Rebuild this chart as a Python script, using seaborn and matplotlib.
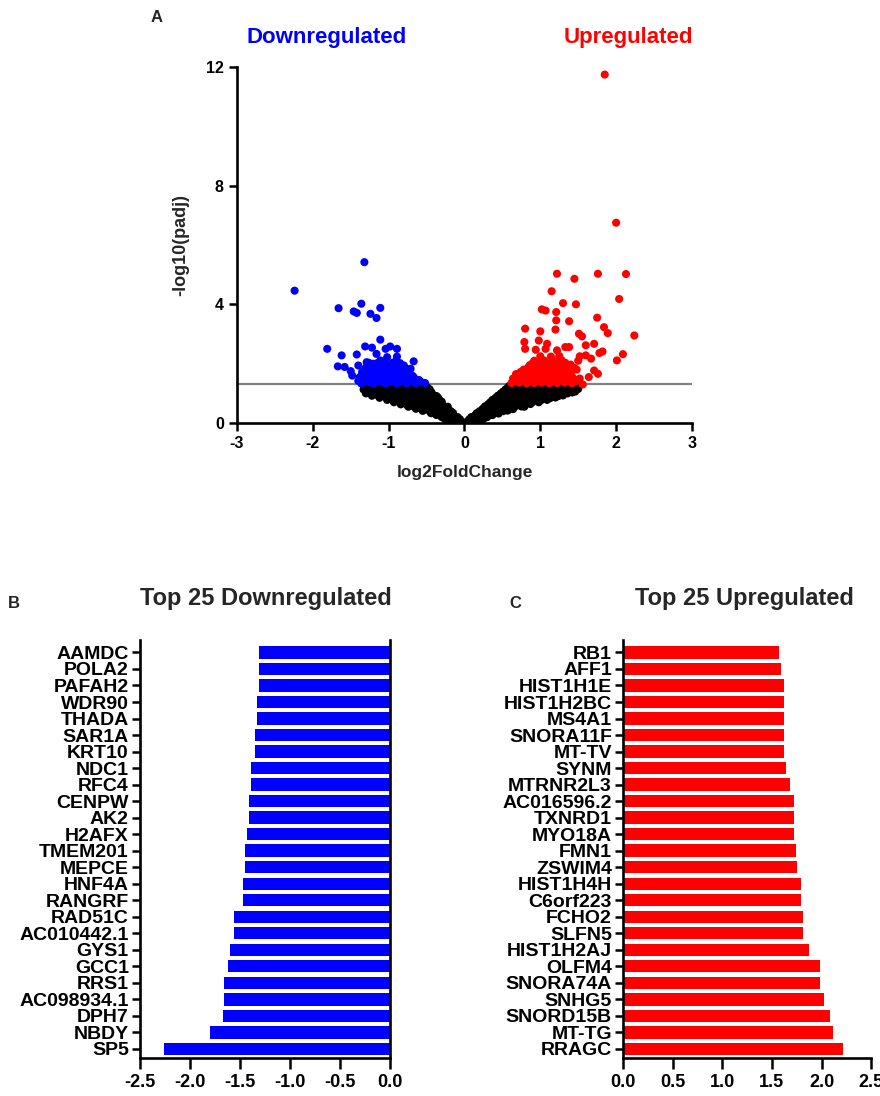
"""
Volcano plot plus top-25 down/up regulated genes (panels A, B, C).
"""
import pandas as pd
import matplotlib.pyplot as plt
import seaborn as sns

# ---- panel A: volcano points (log2FoldChange, -log10(padj)) ----
# not significant (black cloud), listed row by row
ns_lfc = [
    -0.22, -0.15, -0.09, -0.04, 0.0, 0.04, 0.09, 0.15, 0.21,
    -0.26, -0.18, -0.12, -0.06, 0.06, 0.12, 0.19, 0.25,
    -0.37, -0.29, -0.21, -0.14, 0.14, 0.21, 0.29, 0.37,
    -0.55, -0.46, -0.39, -0.31, -0.24, -0.18, 0.2, 0.27, 0.35, 0.44, 0.51, 0.57,
    -0.74, -0.67, -0.58, -0.5, -0.41, -0.34, -0.27, -0.22, 0.27, 0.35, 0.43, 0.52, 0.59, 0.66, 0.75, 0.79,
    -0.93, -0.84, -0.77, -0.68, -0.61, -0.52, -0.45, -0.37, -0.3,
    0.34, 0.42, 0.51, 0.58, 0.66, 0.75, 0.82, 0.9, 0.98,
    -1.12, -1.03, -0.96, -0.88, -0.8, -0.71, -0.64, -0.56, -0.48, -0.41, -0.35,
    0.41, 0.49, 0.57, 0.66, 0.73, 0.81, 0.89, 0.98, 1.05, 1.13, 1.2,
    -1.3, -1.21, -1.14, -1.06, -0.97, -0.9, -0.82, -0.73, -0.66, -0.58, -0.5, -0.43,
    0.48, 0.56, 0.65, 0.72, 0.8, 0.88, 0.97, 1.04, 1.12, 1.21, 1.28, 1.36, 1.42,
    -1.33, -1.25, -1.16, -1.09, -1.01, -0.92, -0.85, -0.77, -0.68, -0.61, -0.53, -0.46,
    0.54, 0.63, 0.7, 0.78, 0.87, 0.94, 1.02, 1.1, 1.19, 1.26, 1.34, 1.42, 1.5,
    -1.31, -1.22, -1.15, -1.07, -0.98, -0.91, -0.83, -0.74, -0.67, -0.59, -0.51,
    0.59, 0.68, 0.75, 0.83, 0.9, 0.99, 1.07, 1.15, 1.24, 1.31, 1.39, 1.47,
    -0.3, -0.22, -0.15, -0.09, 0.09, 0.16, 0.23, 0.3,
    -0.44, -0.36, -0.28, -0.2, -0.15, 0.16, 0.23, 0.31, 0.39, 0.45,
    -0.64, -0.56, -0.48, -0.4, -0.32, -0.25, 0.24, 0.32, 0.4, 0.48, 0.56, 0.64,
    -0.84, -0.76, -0.68, -0.6, -0.52, -0.44, -0.36, -0.29,
    0.31, 0.39, 0.47, 0.55, 0.63, 0.71, 0.79, 0.87,
    -1.02, -0.94, -0.86, -0.78, -0.7, -0.62, -0.54, -0.46, -0.38, -0.33,
    0.37, 0.45, 0.53, 0.61, 0.69, 0.77, 0.85, 0.93, 1.01, 1.09,
    -1.22, -1.14, -1.06, -0.98, -0.9, -0.82, -0.74, -0.66, -0.58, -0.5, -0.42, -0.37,
    0.44, 0.52, 0.6, 0.68, 0.76, 0.84, 0.92, 1.0, 1.08, 1.16, 1.24, 1.3,
    -1.3, -1.21, -1.13, -1.05, -0.97, -0.89, -0.81, -0.73, -0.65, -0.57, -0.49, -0.44,
    0.51, 0.59, 0.67, 0.75, 0.83, 0.91, 0.99, 1.07, 1.15, 1.23, 1.31, 1.39, 1.46,
    -1.32, -1.21, -1.13, -1.05, -0.97, -0.89, -0.81, -0.73, -0.65, -0.57, -0.49,
    0.57, 0.66, 0.74, 0.82, 0.9, 0.98, 1.06, 1.14, 1.22, 1.3, 1.38, 1.46,
]
ns_padj = [
    0.03, 0.02, 0.04, 0.03, 0.02, 0.03, 0.04, 0.03, 0.05,
    0.14, 0.12, 0.15, 0.13, 0.12, 0.15, 0.13, 0.14,
    0.27, 0.26, 0.28, 0.25, 0.26, 0.28, 0.25, 0.27,
    0.41, 0.4, 0.42, 0.39, 0.41, 0.4, 0.4, 0.42, 0.39, 0.41, 0.4, 0.42,
    0.55, 0.56, 0.54, 0.56, 0.55, 0.57, 0.54, 0.55, 0.56, 0.54, 0.55, 0.57, 0.55, 0.54, 0.56, 0.55,
    0.7, 0.71, 0.69, 0.71, 0.7, 0.69, 0.71, 0.7, 0.72,
    0.7, 0.69, 0.71, 0.7, 0.72, 0.69, 0.7, 0.71, 0.7,
    0.85, 0.86, 0.84, 0.85, 0.87, 0.85, 0.84, 0.86, 0.85, 0.84, 0.86,
    0.85, 0.84, 0.86, 0.85, 0.84, 0.86, 0.85, 0.87, 0.85, 0.84, 0.86,
    1.0, 0.99, 1.01, 1.0, 0.98, 1.01, 1.0, 0.99, 1.01, 1.0, 0.98, 1.01,
    1.0, 0.99, 1.01, 1.0, 0.98, 1.01, 1.0, 0.99, 1.01, 1.0, 1.02, 1.0, 1.03,
    1.13, 1.12, 1.14, 1.13, 1.12, 1.14, 1.13, 1.12, 1.14, 1.13, 1.12, 1.14,
    1.13, 1.12, 1.14, 1.13, 1.12, 1.14, 1.13, 1.12, 1.14, 1.13, 1.12, 1.14, 1.15,
    1.25, 1.26, 1.24, 1.25, 1.26, 1.24, 1.25, 1.26, 1.24, 1.25, 1.24,
    1.25, 1.26, 1.24, 1.25, 1.26, 1.24, 1.25, 1.26, 1.24, 1.25, 1.26, 1.25,
    0.2, 0.21, 0.19, 0.2, 0.2, 0.19, 0.21, 0.2,
    0.33, 0.34, 0.32, 0.33, 0.34, 0.33, 0.32, 0.34, 0.33, 0.32,
    0.48, 0.47, 0.49, 0.48, 0.47, 0.49, 0.48, 0.49, 0.47, 0.48, 0.49, 0.47,
    0.63, 0.62, 0.64, 0.63, 0.62, 0.64, 0.63, 0.62,
    0.63, 0.64, 0.62, 0.63, 0.64, 0.62, 0.63, 0.64,
    0.78, 0.77, 0.79, 0.78, 0.77, 0.79, 0.78, 0.77, 0.79, 0.78,
    0.78, 0.79, 0.77, 0.78, 0.79, 0.77, 0.78, 0.79, 0.77, 0.78,
    0.92, 0.93, 0.91, 0.92, 0.93, 0.91, 0.92, 0.93, 0.91, 0.92, 0.93, 0.91,
    0.92, 0.91, 0.93, 0.92, 0.91, 0.93, 0.92, 0.91, 0.93, 0.92, 0.91, 0.93,
    1.06, 1.07, 1.05, 1.06, 1.07, 1.05, 1.06, 1.07, 1.05, 1.06, 1.07, 1.05,
    1.06, 1.05, 1.07, 1.06, 1.05, 1.07, 1.06, 1.05, 1.07, 1.06, 1.05, 1.07, 1.06,
    1.19, 1.2, 1.18, 1.19, 1.2, 1.18, 1.19, 1.2, 1.18, 1.19, 1.2,
    1.19, 1.18, 1.2, 1.19, 1.18, 1.2, 1.19, 1.18, 1.2, 1.19, 1.18, 1.2,
]

# significant, downregulated (blue)
down_lfc = [
    -2.24, -1.32, -1.66, -1.36, -1.46, -1.42, -1.24, -1.11, -1.16, -1.81,
    -1.62, -1.11, -1.31, -1.22, -1.04, -0.98, -0.89, -1.42, -1.16, -1.02,
    -0.89, -0.67, -1.67, -1.58, -1.4, -1.48, -1.38, -1.29, -1.2, -1.11,
    -1.04, -1.27, -1.16, -1.07, -0.98, -0.89, -0.8, -0.71, -1.24, -1.11,
    -1.0, -0.87, -0.76, -0.69, -0.67, -1.36, -1.2, -1.04, -0.89, -0.76,
    -0.64, -0.52, -1.26, -1.16, -1.06, -0.96, -0.86, -0.58, -1.33, -1.13,
    -0.93, -0.83, -1.3, -1.18, -1.08, -0.94, -0.84, -0.74, -1.22, -1.12,
    -1.02, -0.92, -0.82, -1.18, -1.08, -0.98, -0.9, -1.5, -0.6,
    -1.4, -1.31, -1.21, -1.11, -1.01, -0.91, -0.81, -0.71, -0.6,
    -1.33, -1.23, -1.13, -1.03, -0.93, -0.83, -0.73,
    -1.35, -1.25, -1.14, -1.04, -0.94, -0.84, -0.75,
    -1.3, -1.2, -1.1, -1.0, -0.91, -0.78,
    -1.26, -1.15, -1.05, -0.95, -0.85,
]
down_padj = [
    4.46, 5.42, 3.87, 4.02, 3.76, 3.71, 3.68, 3.88, 3.54, 2.5,
    2.28, 2.81, 2.58, 2.54, 2.5, 2.58, 2.5, 2.31, 2.33, 2.22,
    2.24, 2.08, 1.91, 1.89, 1.94, 1.6, 1.55, 2.05, 2.0, 2.11,
    2.0, 1.77, 1.83, 1.72, 1.89, 1.77, 1.94, 1.83, 1.49, 1.55,
    1.55, 1.49, 1.55, 1.6, 1.55, 1.33, 1.33, 1.33, 1.33, 1.33,
    1.33, 1.35, 1.38, 1.4, 1.37, 1.41, 1.38, 1.4, 1.5, 1.48,
    1.46, 1.5, 1.66, 1.64, 1.67, 1.65, 1.66, 1.64, 1.8, 1.82,
    1.79, 1.81, 1.8, 1.96, 1.95, 1.97, 2.1, 1.75, 1.45,
    1.42, 1.43, 1.41, 1.42, 1.44, 1.41, 1.43, 1.42, 1.4,
    1.57, 1.58, 1.56, 1.57, 1.58, 1.56, 1.57,
    1.72, 1.73, 1.71, 1.72, 1.73, 1.71, 1.72,
    1.87, 1.88, 1.86, 1.87, 1.88, 1.86,
    2.03, 2.02, 2.04, 2.03, 2.02,
]

# significant, upregulated (red)
up_lfc = [
    1.85, 2.0, 2.13, 1.76, 2.04, 2.24, 2.09, 2.01, 1.89, 1.84,
    1.75, 1.82, 1.22, 1.45, 1.15, 1.3, 1.47, 1.02, 1.07, 1.21,
    1.38, 1.21, 0.8, 1.0, 1.2, 1.51, 1.55, 0.79, 0.8, 0.98,
    1.09, 1.33, 1.38, 1.6, 1.71, 0.94, 1.07, 1.22, 1.6, 1.67,
    1.78, 1.71, 1.76, 1.64, 1.56, 1.42,
    0.62, 0.72, 0.82, 0.92, 1.02, 1.12, 1.22, 1.32, 1.42,
    0.64, 0.74, 0.84, 0.94, 1.04, 1.14, 1.24, 1.34, 1.44, 1.52,
    0.68, 0.8, 0.9, 1.0, 1.1, 1.2, 1.3, 1.4,
    0.78, 0.9, 1.02, 1.12, 1.22, 1.35, 1.48,
    0.86, 0.96, 1.06, 1.16, 1.26, 1.4,
    0.92, 1.05, 1.18, 1.28, 1.5,
    0.67, 0.77, 0.87, 0.97, 1.07, 1.17, 1.27, 1.37, 1.47,
    0.7, 0.79, 0.89, 0.99, 1.09, 1.19, 1.29, 1.39,
    0.74, 0.85, 0.95, 1.05, 1.15, 1.25, 1.36,
    0.84, 0.96, 1.07, 1.17, 1.29, 1.45,
    0.9, 1.0, 1.12, 1.22, 1.33,
    1.0, 1.14, 1.25, 1.52,
]
up_padj = [
    11.74, 6.75, 5.02, 5.03, 4.18, 2.95, 2.32, 2.11, 3.03, 3.23,
    3.55, 2.41, 5.03, 4.86, 4.44, 4.04, 4.0, 3.83, 3.79, 3.74,
    3.43, 3.46, 3.18, 3.09, 3.15, 3.01, 2.92, 2.73, 2.5, 2.78,
    2.67, 2.56, 2.56, 2.62, 2.67, 2.47, 2.5, 2.45, 2.28, 2.17,
    2.36, 1.77, 1.66, 1.55, 1.3, 1.55,
    1.35, 1.36, 1.34, 1.35, 1.36, 1.34, 1.35, 1.36, 1.34,
    1.5, 1.49, 1.51, 1.5, 1.52, 1.49, 1.5, 1.51, 1.49, 1.5,
    1.65, 1.66, 1.64, 1.65, 1.67, 1.64, 1.66, 1.65,
    1.8, 1.79, 1.81, 1.8, 1.82, 1.79, 1.8,
    1.95, 1.96, 1.94, 1.96, 1.95, 1.97,
    2.1, 2.11, 2.09, 2.12, 2.1,
    1.42, 1.43, 1.41, 1.42, 1.44, 1.41, 1.43, 1.42, 1.41,
    1.57, 1.58, 1.56, 1.57, 1.58, 1.56, 1.57, 1.58,
    1.72, 1.73, 1.71, 1.72, 1.73, 1.71, 1.72,
    1.87, 1.88, 1.86, 1.87, 1.88, 1.86,
    2.02, 2.03, 2.01, 2.02, 2.03,
    2.25, 2.24, 2.26, 2.25,
]

padj_cutoff = 1.3  # -log10(0.05)

# ---- panels B and C: top 25 genes ----
down_genes = ["AAMDC", "POLA2", "PAFAH2", "WDR90", "THADA", "SAR1A", "KRT10", "NDC1",
              "RFC4", "CENPW", "AK2", "H2AFX", "TMEM201", "MEPCE", "HNF4A", "RANGRF",
              "RAD51C", "AC010442.1", "GYS1", "GCC1", "RRS1", "AC098934.1", "DPH7",
              "NBDY", "SP5"]
down_fc = [-1.31, -1.31, -1.31, -1.33, -1.33, -1.35, -1.35, -1.39, -1.39, -1.405,
           -1.405, -1.425, -1.445, -1.445, -1.466, -1.466, -1.56, -1.56, -1.60,
           -1.615, -1.656, -1.656, -1.67, -1.80, -2.255]

up_genes = ["RB1", "AFF1", "HIST1H1E", "HIST1H2BC", "MS4A1", "SNORA11F", "MT-TV",
            "SYNM", "MTRNR2L3", "AC016596.2", "TXNRD1", "MYO18A", "FMN1", "ZSWIM4",
            "HIST1H4H", "C6orf223", "FCHO2", "SLFN5", "HIST1H2AJ", "OLFM4",
            "SNORA74A", "SNHG5", "SNORD15B", "MT-TG", "RRAGC"]
up_fc = [1.57, 1.59, 1.626, 1.626, 1.626, 1.626, 1.626, 1.646, 1.68, 1.72, 1.72,
         1.72, 1.74, 1.757, 1.794, 1.794, 1.81, 1.81, 1.87, 1.98, 1.98, 2.02,
         2.08, 2.12, 2.22]

down_ticks = [-2.5, -2.0, -1.5, -1.0, -0.5, 0.0]
up_ticks = [0.0, 0.5, 1.0, 1.5, 2.0, 2.5]

BLUE = "#0000ff"
RED = "#ff0000"

sns.set_style("ticks")
plt.rcParams['font.family'] = ['Liberation Sans', 'DejaVu Sans']
plt.rcParams['font.weight'] = 'bold'
plt.rcParams['axes.linewidth'] = 1.9
plt.rcParams['axes.edgecolor'] = 'black'
plt.rcParams['axes.unicode_minus'] = False


def style_ticks(ax, size=11):
    ax.tick_params(axis='both', which='major', length=6, width=1.8, color='black',
                   labelsize=size, labelcolor='black', direction='out')
    for lab in ax.get_xticklabels() + ax.get_yticklabels():
        lab.set_fontweight('bold')


fig = plt.figure(figsize=(8.8, 10.96), dpi=100)
ax_a = fig.add_axes([0.2693, 0.614, 0.517, 0.325])
ax_b = fig.add_axes([0.159, 0.0347, 0.284, 0.381])
ax_c = fig.add_axes([0.708, 0.0347, 0.282, 0.381])

# ---- A: volcano ----
volcano = pd.concat([
    pd.DataFrame({"lfc": ns_lfc, "padj": ns_padj, "group": "ns"}),
    pd.DataFrame({"lfc": down_lfc, "padj": down_padj, "group": "down"}),
    pd.DataFrame({"lfc": up_lfc, "padj": up_padj, "group": "up"}),
], ignore_index=True)

ax_a.axhline(padj_cutoff, color='#808080', lw=1.6, zorder=1)
sns.scatterplot(data=volcano, x="lfc", y="padj", hue="group",
                palette={"ns": "black", "down": BLUE, "up": RED},
                s=34, linewidth=0, legend=False, ax=ax_a, zorder=2)
ax_a.set_xlim(-3, 3)
ax_a.set_ylim(0, 12)
ax_a.set_xticks([-3, -2, -1, 0, 1, 2, 3])
ax_a.set_yticks([0, 4, 8, 12])
sns.despine(ax=ax_a)
style_ticks(ax_a, 11.5)
ax_a.set_xlabel("log2FoldChange", fontsize=12.5, fontweight='bold', labelpad=10)
ax_a.set_ylabel("-log10(padj)", fontsize=13, fontweight='bold', labelpad=12)

fig.text(327 / 880, 1 - 38 / 1096, "Downregulated", color=BLUE, fontsize=16,
         fontweight='bold', ha='center', va='center')
fig.text(628 / 880, 1 - 38 / 1096, "Upregulated", color=RED, fontsize=16,
         fontweight='bold', ha='center', va='center')
fig.text(157 / 880, 1 - 18 / 1096, "A", fontsize=12, fontweight='bold',
         ha='center', va='center')

# ---- B: top 25 downregulated ----
df_down = pd.DataFrame({"gene": down_genes, "lfc": down_fc})
sns.barplot(data=df_down, x="lfc", y="gene", color=BLUE, saturation=1,
            width=0.75, edgecolor='none', ax=ax_b)
ax_b.set_xlim(-2.5, 0)
ax_b.set_ylim(24.55, -0.73)
ax_b.set_xticks(down_ticks)
ax_b.set_xticklabels([f"{t:.1f}" for t in down_ticks])
ax_b.spines['top'].set_visible(False)
ax_b.spines['right'].set_visible(True)
ax_b.set_xlabel("")
ax_b.set_ylabel("")
style_ticks(ax_b, 14)
ax_b.tick_params(axis='x', labelsize=13, length=8)
ax_b.tick_params(axis='y', pad=2)
fig.text(266 / 880, 1 - 598 / 1096, "Top 25 Downregulated", fontsize=17,
         fontweight='bold', ha='center', va='center')
fig.text(14 / 880, 1 - 604 / 1096, "B", fontsize=12, fontweight='bold',
         ha='center', va='center')

# ---- C: top 25 upregulated ----
df_up = pd.DataFrame({"gene": up_genes, "lfc": up_fc})
sns.barplot(data=df_up, x="lfc", y="gene", color=RED, saturation=1,
            width=0.75, edgecolor='none', ax=ax_c)
ax_c.set_xlim(0, 2.5)
ax_c.set_ylim(24.55, -0.73)
ax_c.set_xticks(up_ticks)
ax_c.set_xticklabels([f"{t:.1f}" for t in up_ticks])
sns.despine(ax=ax_c)
ax_c.set_xlabel("")
ax_c.set_ylabel("")
style_ticks(ax_c, 14)
ax_c.tick_params(axis='x', labelsize=13, length=8)
ax_c.tick_params(axis='y', pad=2)
fig.text(744 / 880, 1 - 598 / 1096, "Top 25 Upregulated", fontsize=17,
         fontweight='bold', ha='center', va='center')
fig.text(515 / 880, 1 - 604 / 1096, "C", fontsize=12, fontweight='bold',
         ha='center', va='center')

fig.savefig("out.png", dpi=100)
